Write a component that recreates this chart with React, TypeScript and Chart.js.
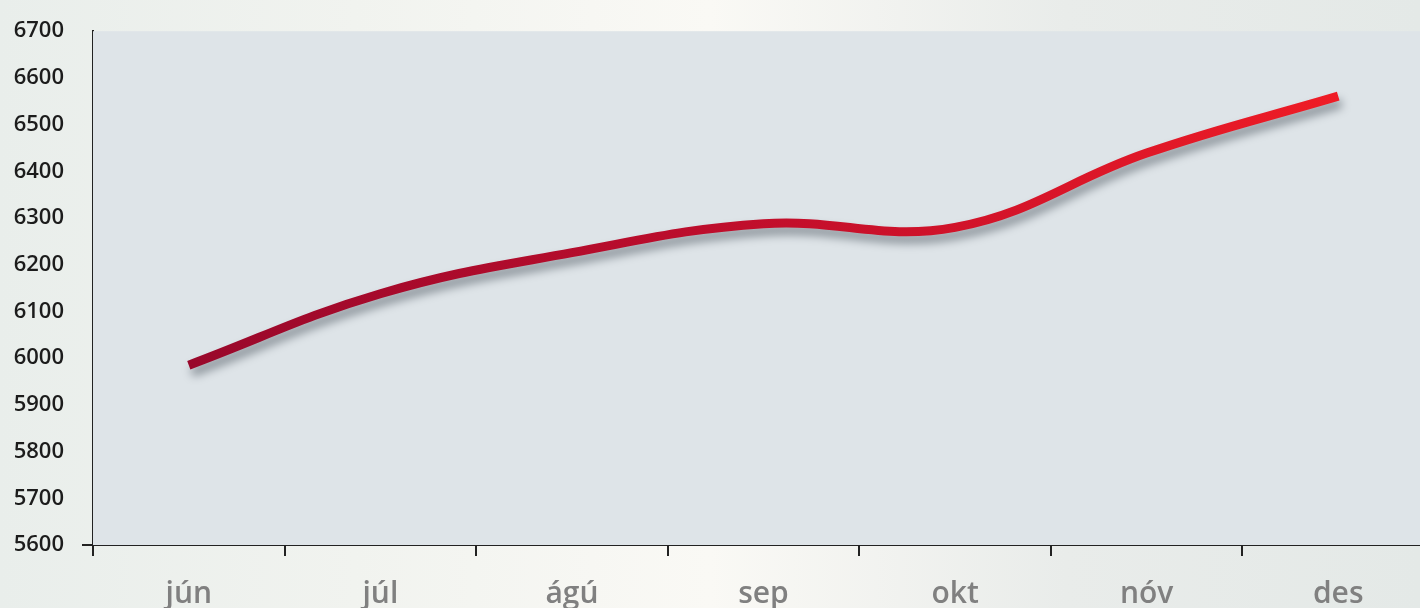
import React, { useEffect, useRef } from "react";
import { Chart, registerables } from "chart.js";

Chart.register(...registerables);

const months = ["jún", "júl", "ágú", "sep", "okt", "nóv", "des"];
const values = [5985, 6138, 6226, 6288, 6280, 6439, 6561];
const yMin = 5600;
const yMax = 6700;
const yStep = 100;

const plotBg = {
  id: "plotBg",
  beforeDatasetsDraw(chart: any) {
    const { ctx, chartArea } = chart;
    ctx.save();
    ctx.fillStyle = "#dee4e8";
    ctx.fillRect(chartArea.left, chartArea.top, chartArea.right - chartArea.left, chartArea.bottom - chartArea.top);
    ctx.restore();
  },
};

const lineShadow = {
  id: "lineShadow",
  beforeDatasetDraw(chart: any) {
    const ctx = chart.ctx;
    ctx.save();
    ctx.shadowColor = "rgba(50,60,70,0.5)";
    ctx.shadowBlur = 10;
    ctx.shadowOffsetX = 3;
    ctx.shadowOffsetY = 7;
  },
  afterDatasetDraw(chart: any) {
    chart.ctx.restore();
  },
};

export default function App() {
  const ref = useRef<HTMLCanvasElement | null>(null);

  useEffect(() => {
    if (!ref.current) return;
    const chart = new Chart(ref.current, {
      type: "line",
      data: {
        labels: months,
        datasets: [
          {
            data: values,
            borderWidth: 9,
            borderCapStyle: "butt",
            tension: 0.4,
            pointRadius: 0,
            fill: false,
            borderColor: (c: any) => {
              const ch = c.chart;
              const area = ch.chartArea;
              if (!area) return "#c40f2d";
              const xs = ch.scales.x;
              const x0 = xs.getPixelForValue(0);
              const x1 = xs.getPixelForValue(values.length - 1);
              const g = ch.ctx.createLinearGradient(x0, 0, x1, 0);
              g.addColorStop(0, "#99082b");
              g.addColorStop(0.45, "#bd0d2c");
              g.addColorStop(1, "#ef1c26");
              return g;
            },
          },
        ],
      },
      options: {
        responsive: false,
        animation: false,
        layout: { padding: { top: 30, left: 0, right: 0, bottom: 0 } },
        plugins: { legend: { display: false }, tooltip: { enabled: false } },
        scales: {
          x: {
            offset: true,
            grid: {
              offset: true,
              drawOnChartArea: false,
              drawTicks: true,
              tickLength: 11,
              color: "#222222",
              lineWidth: 2,
            },
            border: { color: "#222222", width: 2 },
            ticks: {
              color: "#808080",
              padding: 20,
              font: { family: "'Open Sans'", size: 30, weight: "600" },
              maxRotation: 0,
              autoSkip: false,
            },
            afterFit: (s: any) => {
              s.height = 63;
            },
          },
          y: {
            min: yMin,
            max: yMax,
            grid: {
              drawOnChartArea: false,
              drawTicks: true,
              tickLength: 11,
              lineWidth: 2,
              color: (c: any) => (c.tick && c.tick.value === yMin ? "#222222" : "rgba(0,0,0,0)"),
            },
            border: { color: "#222222", width: 2 },
            ticks: {
              stepSize: yStep,
              color: "#1c1c1c",
              padding: 18,
              font: { family: "'Open Sans'", size: 22, weight: "600" },
              callback: (v: any) => String(v),
            },
            afterFit: (s: any) => {
              s.width = 93;
            },
          },
        },
      },
      plugins: [plotBg, lineShadow],
    });
    return () => chart.destroy();
  }, []);

  return (
    <div
      style={{
        position: "fixed",
        left: 0,
        top: 0,
        width: 1420,
        height: 608,
        overflow: "hidden",
        background:
          "linear-gradient(to right, #e9eeeb 0%, #f1f3ef 25%, #faf9f5 50%, #e9ecea 75%, #e4e9e7 100%)",
      }}
    >
      <canvas ref={ref} width={1434} height={608} style={{ display: "block" }} />
    </div>
  );
}
